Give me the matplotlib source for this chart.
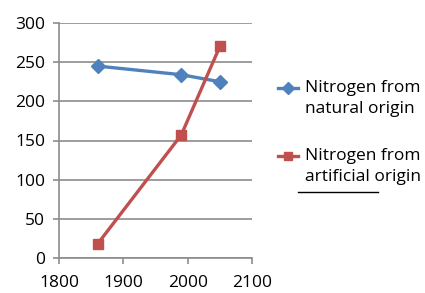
import matplotlib.pyplot as plt
from matplotlib.lines import Line2D

YEARS = [1860, 1990, 2050]
NATURAL = [245, 234, 225]
ARTIFICIAL = [18, 157, 270]
LABELS = ["Nitrogen from\nnatural origin", "Nitrogen from\nartificial origin"]
COLORS = ["#4F81BD", "#C0504D"]
MARKERS = ["D", "s"]

plt.rcParams['font.family'] = ['Open Sans', 'DejaVu Sans']

W, H = 425, 293
fig = plt.figure(figsize=(W / 100, H / 100), dpi=100)
ax = fig.add_axes([59 / W, 1 - 258 / H, (252 - 59) / W, (258 - 23) / H])

for ys, c, m in zip([NATURAL, ARTIFICIAL], COLORS, MARKERS):
    ax.plot(YEARS, ys, color=c, lw=2.4, marker=m,
            markersize=7 if m == "D" else 6.5,
            markeredgecolor=c, markerfacecolor=c, zorder=3)

ax.set_xlim(1800, 2100)
ax.set_ylim(0, 300)
ax.set_xticks(range(1800, 2101, 100))
ax.set_yticks(range(0, 301, 50))
ax.grid(axis='y', color='#8C8C8C', lw=1.2)
ax.set_axisbelow(True)
for s in ['top', 'right']:
    ax.spines[s].set_visible(False)
for s in ['left', 'bottom']:
    ax.spines[s].set_color('#8C8C8C')
    ax.spines[s].set_linewidth(1.2)
ax.tick_params(colors='#8C8C8C', labelcolor='black', labelsize=12.5, length=4, width=1.2)
ax.tick_params(axis='y', pad=6)
ax.tick_params(axis='x', pad=8)

# legend drawn by hand so the marker sits on the first line of text
for i, (lab, c, m) in enumerate(zip(LABELS, COLORS, MARKERS)):
    yc = 1 - (88 + i * 68) / H
    fig.add_artist(Line2D([278 / W, 298 / W], [yc, yc], color=c, lw=2.4))
    fig.add_artist(Line2D([288 / W], [yc], marker=m, color=c, markersize=6))
    fig.text(305 / W, yc + 8 / H, lab, fontsize=12.5, va='top', ha='left',
             linespacing=1.45)

fig.add_artist(Line2D([298 / W, 378 / W], [1 - 192 / H] * 2, color='black', lw=1))

fig.savefig("out.png", dpi=100)
